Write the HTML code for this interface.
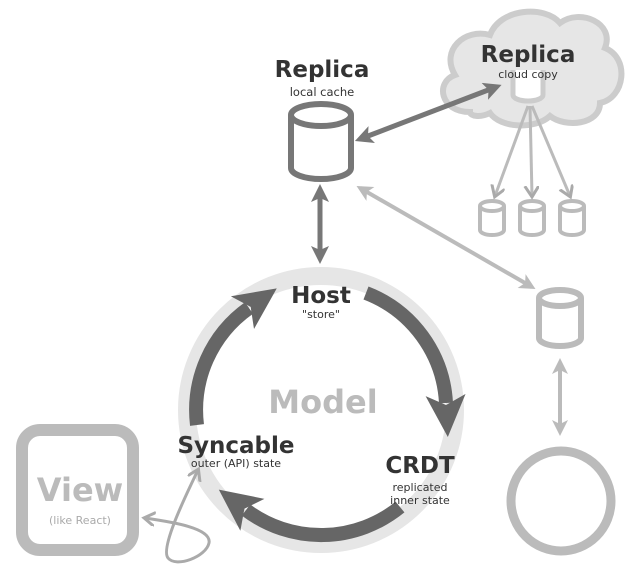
<!DOCTYPE html>
<html><head><style>body{margin:0;background:#fff}svg{display:block}text{font-family:"DejaVu Sans","Liberation Sans",sans-serif;text-anchor:middle}</style></head><body>
<svg width="638" height="582" viewBox="0 0 638 582" xmlns="http://www.w3.org/2000/svg">
<defs>
<marker id="big" markerUnits="userSpaceOnUse" markerWidth="50" markerHeight="50" refX="8" refY="20" orient="auto"><path d="M0,0 L42,20 L0,40 L10,20 z" fill="#666"/></marker>
<marker id="dk" markerUnits="userSpaceOnUse" markerWidth="24" markerHeight="24" refX="12" refY="9" orient="auto"><path d="M0,0 L18,9 L0,18 L4,9 z" fill="#777"/></marker>
<marker id="dks" markerUnits="userSpaceOnUse" markerWidth="24" markerHeight="24" refX="4" refY="9" orient="auto-start-reverse"><path d="M0,0 L18,9 L0,18 L4,9 z" fill="#777"/></marker>
<marker id="lt" markerUnits="userSpaceOnUse" markerWidth="24" markerHeight="24" refX="12" refY="8" orient="auto-start-reverse"><path d="M0,0 L16,8 L0,16 L4,8 z" fill="#bbb"/></marker>
<marker id="ch" markerUnits="userSpaceOnUse" markerWidth="20" markerHeight="20" refX="10" refY="7" orient="auto-start-reverse"><path d="M0,0 L11,7 L0,14" fill="none" stroke="#aaa" stroke-width="3"/></marker>
</defs>
<!-- cloud -->
<path d="M470,112 C440,112 435,82 455,75 C440,50 465,28 490,35 C500,8 545,5 560,23 C580,8 615,23 605,48 C630,58 625,98 600,103 C600,125 565,128 550,116 C535,130 500,128 490,113 C480,118 470,116 470,112 z" fill="#e6e6e6" stroke="#ccc" stroke-width="6"/>
<path d="M513,70 L513,95 A15,6 0 0 0 543,95 L543,70" fill="#fff" stroke="#ccc" stroke-width="5"/>
<text x="528" y="62" font-size="23" font-weight="bold" fill="#333">Replica</text>
<text x="528" y="78" font-size="11" fill="#333">cloud copy</text>
<!-- small cylinders -->
<g fill="#fff" stroke="#bbb" stroke-width="4">
<path d="M480,206 L480,230 A12,5 0 0 0 504,230 L504,206 A12,5 0 0 0 480,206 A12,5 0 0 0 504,206"/>
<path d="M520,206 L520,230 A12,5 0 0 0 544,230 L544,206 A12,5 0 0 0 520,206 A12,5 0 0 0 544,206"/>
<path d="M560,206 L560,230 A12,5 0 0 0 584,230 L584,206 A12,5 0 0 0 560,206 A12,5 0 0 0 584,206"/>
</g>
<g stroke="#bbb" stroke-width="3" fill="none">
<line x1="528" y1="106" x2="495" y2="196" marker-end="url(#ch)"/>
<line x1="530" y1="106" x2="532" y2="196" marker-end="url(#ch)"/>
<line x1="532" y1="106" x2="570" y2="196" marker-end="url(#ch)"/>
</g>
<!-- local replica -->
<text x="322" y="77" font-size="23" font-weight="bold" fill="#333">Replica</text>
<text x="322" y="96" font-size="11.5" fill="#333">local cache</text>
<path d="M291,115 L291,168 A30,11 0 0 0 351,168 L351,115 A30,11 0 0 0 291,115 A30,11 0 0 0 351,115" fill="#fff" stroke="#777" stroke-width="6"/>
<line x1="368" y1="136" x2="496" y2="87" stroke="#777" stroke-width="5" marker-start="url(#dks)" marker-end="url(#dk)"/>
<line x1="320" y1="198" x2="320" y2="258" stroke="#777" stroke-width="5" marker-start="url(#dks)" marker-end="url(#dk)"/>
<line x1="360" y1="188" x2="532" y2="287" stroke="#bbb" stroke-width="4" marker-start="url(#lt)" marker-end="url(#lt)"/>
<!-- right cylinder + circle -->
<path d="M539,298 L539,338 A21,8 0 0 0 581,338 L581,298 A21,8 0 0 0 539,298 A21,8 0 0 0 581,298" fill="#fff" stroke="#bbb" stroke-width="6"/>
<line x1="560" y1="362" x2="560" y2="432" stroke="#bbb" stroke-width="4" marker-start="url(#lt)" marker-end="url(#lt)"/>
<circle cx="561" cy="501" r="50" fill="none" stroke="#bbb" stroke-width="9"/>
<!-- model -->
<circle cx="321" cy="410" r="134" fill="none" stroke="#e6e6e6" stroke-width="18"/>
<g fill="none" stroke="#666" stroke-width="14">
<path d="M366,293 A125,125 0 0 1 446,403" marker-end="url(#big)"/>
<path d="M400,507 A125,125 0 0 1 246,510" marker-end="url(#big)"/>
<path d="M197,425 A125,125 0 0 1 249,308" marker-end="url(#big)"/>
</g>
<text x="321" y="303" font-size="23" font-weight="bold" fill="#333">Host</text>
<text x="321" y="318" font-size="11" fill="#333">"store"</text>
<text x="323" y="413" font-size="32" font-weight="bold" fill="#bbb">Model</text>
<text x="236" y="453" font-size="23" font-weight="bold" fill="#333">Syncable</text>
<text x="236" y="467" font-size="11" fill="#333">outer (API) state</text>
<text x="420" y="473" font-size="23" font-weight="bold" fill="#333">CRDT</text>
<text x="420" y="491" font-size="11" fill="#333">replicated</text>
<text x="420" y="504" font-size="11" fill="#333">inner state</text>
<!-- view -->
<rect x="22" y="430" width="111" height="120" rx="18" fill="#fff" stroke="#bbb" stroke-width="12"/>
<text x="80" y="501" font-size="32" font-weight="bold" fill="#bbb">View</text>
<text x="80" y="524" font-size="11" fill="#aaa">(like React)</text>
<path d="M145,518 C172,522 212,528 209,543 C206,557 176,568 168,558 C160,548 186,495 198,470" fill="none" stroke="#aaa" stroke-width="3" marker-start="url(#ch)" marker-end="url(#ch)"/>
</svg>
</body></html>
